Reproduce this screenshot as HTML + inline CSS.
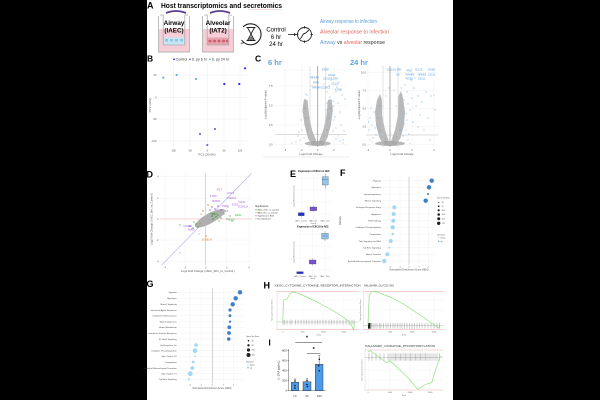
<!DOCTYPE html>
<html><head><meta charset="utf-8"><style>
html,body{margin:0;padding:0;background:#000;}
svg{display:block;}
text{font-family:"Liberation Sans",Arial,sans-serif;}
</style></head><body>
<svg width="600" height="400" viewBox="0 0 600 400" xmlns="http://www.w3.org/2000/svg">
<rect width="600" height="400" fill="#000"/>
<rect x="147" y="0" width="306" height="400" fill="#fff"/>

<!-- ================= PANEL A ================= -->
<text x="147" y="8.5" font-size="9" font-weight="bold">A</text>
<text x="161" y="8" font-size="7" font-weight="bold" textLength="121" lengthAdjust="spacingAndGlyphs">Host transcriptomics and secretomics</text>
<line x1="249" y1="9.6" x2="282" y2="9.6" stroke="#e77" stroke-width="0.5" stroke-dasharray="0.8 0.8"/>

<!-- transwell 1 -->
<rect x="158.5" y="29" width="31" height="23" fill="#f7cdd7"/>
<rect x="163.5" y="37.5" width="21" height="7.5" fill="#c6e6f4"/>
<g fill="#8ec6e2"><rect x="165" y="39" width="3" height="2.5"/><rect x="170" y="39" width="3" height="2.5"/><rect x="175" y="39" width="3" height="2.5"/><rect x="180" y="39" width="3" height="2.5"/></g>
<path d="M158.5 16 V52 H189.5 V16" fill="none" stroke="#b5b5b5" stroke-width="0.9"/>
<path d="M160 15 H163.2 V45 H184.8 V15 H188" fill="none" stroke="#aaa" stroke-width="0.8"/>
<path d="M166 13 Q176 9 186 13" fill="none" stroke="#5b3f92" stroke-width="1.8"/>
<text x="174" y="25" font-size="6.3" font-weight="bold" text-anchor="middle">Airway</text>
<text x="174" y="32.5" font-size="6.3" font-weight="bold" text-anchor="middle">(IAEC)</text>

<!-- transwell 2 -->
<rect x="202.5" y="29" width="31" height="23" fill="#f7cdd7"/>
<rect x="207.5" y="37.5" width="21" height="7.5" fill="#e7a3ad"/>
<g fill="#cf5f6e"><ellipse cx="210" cy="41" rx="1.6" ry="1.4"/><ellipse cx="214.5" cy="41" rx="1.6" ry="1.4"/><ellipse cx="219" cy="41" rx="1.6" ry="1.4"/><ellipse cx="223.5" cy="41" rx="1.6" ry="1.4"/><ellipse cx="227" cy="41" rx="1.2" ry="1.4"/></g>
<path d="M202.5 16 V52 H233.5 V16" fill="none" stroke="#b5b5b5" stroke-width="0.9"/>
<path d="M204 15 H207.2 V45 H228.8 V15 H232" fill="none" stroke="#aaa" stroke-width="0.8"/>
<path d="M210 13 Q220 9 230 13" fill="none" stroke="#5b3f92" stroke-width="1.8"/>
<text x="218" y="25" font-size="6.3" font-weight="bold" text-anchor="middle">Alveolar</text>
<text x="218" y="32.5" font-size="6.3" font-weight="bold" text-anchor="middle">(IAT2)</text>

<!-- hourglass -->
<path d="M243 27 A10.5 10.5 0 1 1 244 42.5" fill="none" stroke="#222" stroke-width="1.1"/>
<path d="M241.5 40 L244 42.5 L240.8 43.5" fill="none" stroke="#222" stroke-width="0.9"/>
<path d="M246.5 27.5 H255.5 M246.5 40.5 H255.5 M247.5 27.5 L251 34 L247.5 40.5 M254.5 27.5 L251 34 L254.5 40.5" fill="none" stroke="#222" stroke-width="0.9"/>
<path d="M249 38.5 L251 36 L253 38.5 L253.5 40 L248.5 40 Z" fill="#777"/>
<text x="276" y="31.5" font-size="6" text-anchor="middle">Control</text>
<text x="276" y="39" font-size="6" text-anchor="middle">6 hr</text>
<text x="276" y="46" font-size="6" text-anchor="middle">24 hr</text>
<line x1="288" y1="34.5" x2="294.5" y2="34.5" stroke="#222" stroke-width="0.8"/>
<path d="M294 33 L296.5 34.5 L294 36 Z" fill="#222"/>
<circle cx="304.5" cy="34.5" r="7" fill="none" stroke="#222" stroke-width="0.9"/>
<path d="M304.5 26 V28.5 M304.5 40.5 V43 M296 34.5 H298.5 M310.5 34.5 H313" stroke="#222" stroke-width="0.8"/>
<path d="M300 38.5 C302 38.5 302 34 304.5 33.5 C307 33 307 30.5 309 30.5" fill="none" stroke="#222" stroke-width="0.9"/>

<text x="320" y="23" font-size="5" fill="#5b9bd5" textLength="57" lengthAdjust="spacingAndGlyphs">Airway response to infection</text>
<text x="320" y="33.5" font-size="5" fill="#e0625a" textLength="69" lengthAdjust="spacingAndGlyphs">Alveolar response to infection</text>
<text x="320" y="44" font-size="5" textLength="65" lengthAdjust="spacingAndGlyphs"><tspan fill="#5b9bd5">Airway</tspan><tspan fill="#333"> vs </tspan><tspan fill="#e0625a">alveolar</tspan><tspan fill="#333"> response</tspan></text>

<!-- ================= PANEL B ================= -->
<text x="147" y="61.5" font-size="8.5" font-weight="bold">B</text>
<g font-size="3.6" fill="#333">
<circle cx="174" cy="59.3" r="0.9" fill="#2929e8"/><text x="175.6" y="60.5">Control</text>
<circle cx="190" cy="59.3" r="0.9" fill="#8a64e0"/><text x="191.6" y="60.5">S. py 6 hr</text>
<circle cx="210" cy="59.3" r="0.9" fill="#6aaaf0"/><text x="211.6" y="60.5">S. py 24 hr</text>
</g>
<g stroke="#e6e6e6" stroke-width="0.4">
<line x1="158" y1="75" x2="248" y2="75"/><line x1="158" y1="97.3" x2="248" y2="97.3"/><line x1="158" y1="119" x2="248" y2="119"/><line x1="158" y1="141" x2="248" y2="141"/>
<line x1="173.3" y1="63" x2="173.3" y2="148"/><line x1="190" y1="63" x2="190" y2="148"/><line x1="207.3" y1="63" x2="207.3" y2="148"/><line x1="224" y1="63" x2="224" y2="148"/><line x1="240" y1="63" x2="240" y2="148"/>
</g>
<g font-size="2.6" fill="#555" text-anchor="end">
<text x="156.5" y="76">50</text><text x="156.5" y="98.3">0</text><text x="156.5" y="120">-50</text><text x="156.5" y="142">-100</text>
</g>
<g font-size="2.6" fill="#555" text-anchor="middle">
<text x="173.3" y="151.5">-100</text><text x="190" y="151.5">-50</text><text x="207.3" y="151.5">0</text><text x="224" y="151.5">50</text><text x="240" y="151.5">100</text>
<text x="207" y="155.5" font-size="3">PC1 (30.6%)</text>
<text x="151" y="105" font-size="3" transform="rotate(-90 151 105)">PC2 (22%)</text>
</g>
<g>
<circle cx="163.3" cy="77.7" r="1.1" fill="#6aaaf0"/><circle cx="176.7" cy="75" r="1.1" fill="#6aaaf0"/><circle cx="196" cy="79" r="1.1" fill="#6aaaf0"/>
<circle cx="224.3" cy="84" r="1.1" fill="#2929e8"/><circle cx="239.3" cy="84" r="1.1" fill="#2929e8"/><circle cx="245" cy="68.3" r="1.1" fill="#2929e8"/>
<circle cx="200" cy="134" r="1.1" fill="#8a64e0"/><circle cx="215" cy="129" r="1.1" fill="#8a64e0"/><circle cx="207.3" cy="145" r="1.1" fill="#8a64e0"/>
</g>

<!-- ================= PANEL C ================= -->
<text x="255" y="61.5" font-size="8.5" font-weight="bold">C</text>
<text x="268" y="65" font-size="7.5" font-weight="bold" fill="#5aa2ea">6 hr</text>
<text x="350" y="65" font-size="7.5" font-weight="bold" fill="#5aa2ea">24 hr</text>

<!-- left volcano -->
<g stroke="#ececec" stroke-width="0.4">
<line x1="275" y1="144.5" x2="347" y2="144.5"/><line x1="275" y1="125" x2="347" y2="125"/><line x1="275" y1="105.5" x2="347" y2="105.5"/><line x1="275" y1="86" x2="347" y2="86"/><line x1="275" y1="70" x2="347" y2="70"/>
<line x1="285" y1="66" x2="285" y2="147"/><line x1="301.5" y1="66" x2="301.5" y2="147"/><line x1="334" y1="66" x2="334" y2="147"/>
</g>
<g font-size="2.5" fill="#555">
<g text-anchor="end"><text x="272.5" y="145.5">0.0</text><text x="272.5" y="126">2.5</text><text x="272.5" y="106.5">5.0</text><text x="272.5" y="87">7.5</text></g>
<g text-anchor="middle"><text x="285" y="151">-4</text><text x="301.5" y="151">-2</text><text x="317.7" y="151">0</text><text x="334" y="151">2</text>
<text x="311" y="155" font-size="2.8">Log2 Fold Change</text>
<text x="266.5" y="105" font-size="2.6" transform="rotate(-90 266.5 105)">-Log10(Adjusted P-value)</text></g>
</g>
<line x1="263" y1="157" x2="350" y2="157" stroke="#ddd" stroke-width="0.5"/>
<g fill="#a8a8a8" fill-opacity="0.8">
<path d="M317 145.5 L312 145.5 L308 138 L304.5 125 L302.5 110 L304 99 L307.5 100 L309 115 L312 130 L316 140 Z"/>
<path d="M318.4 145.5 L323.4 145.5 L327.4 138 L330.9 125 L332.9 110 L331.4 99 L327.9 100 L326.4 115 L323.4 130 L319.4 140 Z"/>
<ellipse cx="317.7" cy="143.5" rx="13" ry="2.5"/>
</g>
<g fill="#8a8a8a">
<circle cx="308" cy="130" r="0.5"/><circle cx="306" cy="118" r="0.5"/><circle cx="310" cy="136" r="0.5"/><circle cx="305" cy="108" r="0.5"/><circle cx="327" cy="130" r="0.5"/><circle cx="329" cy="118" r="0.5"/><circle cx="325" cy="136" r="0.5"/><circle cx="331" cy="108" r="0.5"/><circle cx="314" cy="142" r="0.5"/><circle cx="321" cy="142" r="0.5"/>
</g>
<g fill="#a3a3a3">
<circle cx="300" cy="140" r="0.55"/><circle cx="298" cy="136" r="0.55"/><circle cx="304" cy="108" r="0.55"/><circle cx="333" cy="106" r="0.55"/><circle cx="306" cy="94" r="0.55"/><circle cx="310" cy="90" r="0.55"/><circle cx="327" cy="92" r="0.55"/><circle cx="336" cy="128" r="0.55"/><circle cx="338" cy="136" r="0.55"/><circle cx="296" cy="142" r="0.55"/><circle cx="340" cy="141" r="0.55"/><circle cx="312" cy="86" r="0.55"/><circle cx="324" cy="84" r="0.55"/><circle cx="302" cy="130" r="0.55"/><circle cx="334" cy="120" r="0.55"/><circle cx="292" cy="143" r="0.55"/><circle cx="343" cy="143" r="0.55"/>
</g>
<line x1="275" y1="134.3" x2="347" y2="134.3" stroke="#bbb" stroke-width="0.5"/>
<line x1="310" y1="66" x2="310" y2="147" stroke="#c8c8c8" stroke-width="0.5"/>
<line x1="325.5" y1="66" x2="325.5" y2="147" stroke="#c8c8c8" stroke-width="0.5"/>
<line x1="317.7" y1="66" x2="317.7" y2="147" stroke="#999" stroke-width="0.8"/>
<g fill="#86bfec">
<circle cx="330" cy="97" r="0.6"/><circle cx="333" cy="101" r="0.6"/><circle cx="336" cy="92" r="0.6"/><circle cx="338" cy="103" r="0.6"/><circle cx="332" cy="108" r="0.6"/><circle cx="340" cy="112" r="0.6"/><circle cx="335" cy="117" r="0.6"/><circle cx="342" cy="95" r="0.6"/><circle cx="337" cy="87" r="0.6"/><circle cx="345" cy="99" r="0.6"/><circle cx="341" cy="125" r="0.6"/><circle cx="333" cy="131" r="0.6"/><circle cx="344" cy="131" r="0.6"/><circle cx="329" cy="86" r="0.6"/><circle cx="331" cy="80" r="0.6"/><circle cx="339" cy="82" r="0.6"/><circle cx="326" cy="110" r="0.6"/><circle cx="328" cy="120" r="0.6"/><circle cx="336" cy="139" r="0.6"/><circle cx="343" cy="140" r="0.6"/><circle cx="327" cy="103" r="0.6"/><circle cx="329" cy="127" r="0.6"/>
<circle cx="303" cy="112" r="0.6"/><circle cx="301" cy="120" r="0.6"/><circle cx="305" cy="104" r="0.6"/><circle cx="299" cy="132" r="0.6"/><circle cx="307" cy="95" r="0.6"/><circle cx="304" cy="138" r="0.6"/>
</g>
<g font-size="2.3" fill="#4a8fd8">
<text x="322" y="70.5">IFI30P</text><text x="328" y="76">CXCL1</text><text x="323" y="79.5">CXCL8 IL1RN</text><text x="309.5" y="78.5">TNFAIP3</text><text x="313" y="83.5">TNFA</text><text x="331.5" y="84.5">CCL20</text><text x="312.5" y="88.5">NFKBIA ZC3H12</text><text x="335" y="90.5">ICAM1</text>
</g>

<!-- right volcano -->
<g stroke="#ececec" stroke-width="0.4">
<line x1="366" y1="144.5" x2="438" y2="144.5"/><line x1="366" y1="126.5" x2="438" y2="126.5"/><line x1="366" y1="108.5" x2="438" y2="108.5"/><line x1="366" y1="90.5" x2="438" y2="90.5"/><line x1="366" y1="72.5" x2="438" y2="72.5"/>
<line x1="368" y1="66" x2="368" y2="147"/><line x1="412" y1="66" x2="412" y2="147"/><line x1="434" y1="66" x2="434" y2="147"/>
</g>
<g font-size="2.5" fill="#555">
<g text-anchor="end"><text x="366" y="145.5">0.0</text><text x="366" y="127.5">2.5</text><text x="366" y="109.5">5.0</text><text x="366" y="91.5">7.5</text><text x="366" y="73.5">10.0</text></g>
<g text-anchor="middle"><text x="368" y="151">-2</text><text x="390" y="151">0</text><text x="412" y="151">2</text><text x="434" y="151">4</text>
<text x="402" y="155" font-size="2.8">Log2 Fold Change</text>
<text x="360" y="105" font-size="2.6" transform="rotate(-90 360 105)">-Log10(Adjusted P-value)</text></g>
</g>
<g fill="#a8a8a8" fill-opacity="0.8">
<path d="M389.3 145.5 L384 145.5 L379.5 138 L376 125 L375 112 L377 100 L380 94 L382 100 L382 115 L385 130 L388.5 140 Z"/>
<path d="M390.7 145.5 L396 145.5 L400.5 138 L404 125 L405 112 L403 98 L401 91 L398.5 96 L398 115 L395 130 L391.5 140 Z"/>
<ellipse cx="390" cy="143.5" rx="15" ry="2.5"/>
</g>
<g fill="#8a8a8a">
<circle cx="380" cy="130" r="0.5"/><circle cx="378" cy="118" r="0.5"/><circle cx="383" cy="137" r="0.5"/><circle cx="379" cy="106" r="0.5"/><circle cx="400" cy="130" r="0.5"/><circle cx="402" cy="118" r="0.5"/><circle cx="397" cy="137" r="0.5"/><circle cx="401" cy="106" r="0.5"/><circle cx="386" cy="142" r="0.5"/><circle cx="394" cy="142" r="0.5"/>
</g>
<g fill="#a3a3a3">
<circle cx="378" cy="128" r="0.55"/><circle cx="383" cy="106" r="0.55"/><circle cx="396" cy="106" r="0.55"/><circle cx="386" cy="96" r="0.55"/><circle cx="394" cy="90" r="0.55"/><circle cx="406" cy="130" r="0.55"/><circle cx="408" cy="140" r="0.55"/><circle cx="372" cy="142" r="0.55"/><circle cx="370" cy="140" r="0.55"/><circle cx="410" cy="143" r="0.55"/><circle cx="389" cy="88" r="0.55"/><circle cx="407" cy="120" r="0.55"/>
</g>
<line x1="366" y1="135" x2="438" y2="135" stroke="#bbb" stroke-width="0.5"/>
<line x1="383" y1="66" x2="383" y2="147" stroke="#c8c8c8" stroke-width="0.5"/>
<line x1="398" y1="66" x2="398" y2="147" stroke="#c8c8c8" stroke-width="0.5"/>
<line x1="390" y1="66" x2="390" y2="147" stroke="#999" stroke-width="0.8"/>
<g fill="#86bfec">
<circle cx="370" cy="118" r="0.6"/><circle cx="372" cy="125" r="0.6"/><circle cx="369" cy="130" r="0.6"/><circle cx="374" cy="112" r="0.6"/><circle cx="371" cy="108" r="0.6"/><circle cx="376" cy="135" r="0.6"/><circle cx="373" cy="138" r="0.6"/><circle cx="368.5" cy="122" r="0.6"/><circle cx="378" cy="104" r="0.6"/><circle cx="375" cy="128" r="0.6"/>
<circle cx="401" cy="88" r="0.6"/><circle cx="402" cy="95" r="0.6"/><circle cx="404" cy="100" r="0.6"/><circle cx="401" cy="106" r="0.6"/><circle cx="403" cy="112" r="0.6"/><circle cx="402" cy="118" r="0.6"/><circle cx="404" cy="124" r="0.6"/><circle cx="401" cy="130" r="0.6"/><circle cx="405" cy="85" r="0.6"/><circle cx="407" cy="92" r="0.6"/><circle cx="408" cy="104" r="0.6"/><circle cx="410" cy="110" r="0.6"/><circle cx="412" cy="98" r="0.6"/><circle cx="414" cy="88" r="0.6"/><circle cx="416" cy="106" r="0.6"/><circle cx="418" cy="96" r="0.6"/><circle cx="420" cy="115" r="0.6"/><circle cx="422" cy="102" r="0.6"/><circle cx="426" cy="92" r="0.6"/><circle cx="428" cy="118" r="0.6"/><circle cx="431" cy="96" r="0.6"/><circle cx="434" cy="95" r="0.6"/><circle cx="424" cy="130" r="0.6"/><circle cx="418" cy="127" r="0.6"/><circle cx="413" cy="122" r="0.6"/><circle cx="409" cy="134" r="0.6"/><circle cx="430" cy="140" r="0.6"/><circle cx="435" cy="110" r="0.6"/><circle cx="411" cy="80" r="0.6"/><circle cx="406" cy="78" r="0.6"/><circle cx="415" cy="78" r="0.6"/><circle cx="403" cy="136" r="0.6"/><circle cx="406" cy="114" r="0.6"/><circle cx="400" cy="120" r="0.6"/>
</g>
<g font-size="2.3" fill="#4a8fd8">
<text x="386.5" y="70.5">CXCL8 IL1RN</text><text x="406.5" y="71.5">IFI30</text><text x="415" y="70.5">CCL20</text><text x="428" y="70.5">ICAM1</text>
<text x="396.5" y="75.5">IL6</text><text x="405" y="75.5">TNFAIP3</text><text x="418" y="75.5">NFKBIZ</text><text x="428" y="75.5">CXCL1</text>
<text x="406.5" y="79.5">SOD2</text><text x="418" y="79.5">CXCL2</text>
</g>

<!-- ================= PANEL D ================= -->
<text x="146.5" y="177.5" font-size="9" font-weight="bold">D</text>
<g stroke="#ececec" stroke-width="0.4">
<line x1="160" y1="176.7" x2="252" y2="176.7"/><line x1="160" y1="198.3" x2="252" y2="198.3"/><line x1="160" y1="240" x2="252" y2="240"/><line x1="160" y1="261.7" x2="252" y2="261.7"/>
<line x1="165" y1="173" x2="165" y2="265"/><line x1="185" y1="173" x2="185" y2="265"/><line x1="226.7" y1="173" x2="226.7" y2="265"/><line x1="249" y1="173" x2="249" y2="265"/>
</g>
<line x1="160" y1="219" x2="252" y2="219" stroke="#f3a5a5" stroke-width="0.6"/>
<line x1="205.7" y1="173" x2="205.7" y2="265" stroke="#f3a5a5" stroke-width="0.6"/>
<line x1="161.7" y1="265" x2="251.7" y2="173.3" stroke="#bbb8f5" stroke-width="0.7"/>
<g font-size="2.3" fill="#555">
<g text-anchor="end"><text x="158.5" y="177.5">4</text><text x="158.5" y="199">2</text><text x="158.5" y="220">0</text><text x="158.5" y="241">-2</text><text x="158.5" y="262.5">-4</text></g>
<g text-anchor="middle"><text x="165" y="268.5">-4</text><text x="185" y="268.5">-2</text><text x="205.7" y="268.5">0</text><text x="226.7" y="268.5">2</text><text x="249" y="268.5">4</text>
<text x="208" y="272" font-size="2.7">Log2 Fold Change ( IAEC_24hr_vs_Control )</text>
<text x="152.5" y="219" font-size="2.7" transform="rotate(-90 152.5 219)">Log2 Fold Change ( IAEC_6hr_vs_Control )</text></g>
</g>
<ellipse cx="210" cy="218.3" rx="17" ry="5" fill="#b0b0b0" transform="rotate(-29 210 218.3)"/>
<g fill="#a5a5a5"><circle cx="192" cy="229" r="0.6"/><circle cx="228" cy="207" r="0.6"/><circle cx="189" cy="226" r="0.6"/><circle cx="180" cy="253" r="0.6"/><circle cx="199" cy="234" r="0.6"/></g>
<g fill="#2ca02c">
<circle cx="212" cy="216" r="0.8"/><circle cx="214" cy="214" r="0.8"/><circle cx="216" cy="217" r="0.8"/><circle cx="213" cy="219" r="0.8"/><circle cx="218" cy="215" r="0.6"/><circle cx="221" cy="218" r="0.6"/><circle cx="224" cy="214" r="0.6"/><circle cx="227" cy="219" r="0.6"/><circle cx="230" cy="216" r="0.6"/><circle cx="232" cy="221" r="0.6"/><circle cx="219" cy="221" r="0.6"/><circle cx="211" cy="213" r="0.6"/>
<circle cx="196" cy="224" r="0.7"/><circle cx="198" cy="227" r="0.7"/><circle cx="194" cy="222" r="0.6"/><circle cx="180" cy="225" r="0.6"/><circle cx="193" cy="228" r="0.6"/>
</g>
<g fill="#e07a2a"><circle cx="208" cy="205" r="0.7"/><circle cx="203" cy="211" r="0.7"/><circle cx="200" cy="224" r="0.7"/><circle cx="206" cy="236" r="0.7"/><circle cx="201" cy="214" r="0.6"/></g>
<g fill="#9b55d6"><circle cx="212" cy="207" r="0.7"/><circle cx="215" cy="209" r="0.7"/><circle cx="218" cy="206" r="0.7"/><circle cx="210" cy="210" r="0.7"/><circle cx="221" cy="210" r="0.7"/><circle cx="190" cy="226" r="0.7"/></g>
<g font-size="2.3" fill="#a855e0">
<text x="216.7" y="190.5">IFI27</text><text x="226.7" y="193.8">CXCL8</text><text x="210" y="197">IL1RN</text><text x="226.7" y="199">TNFAIP3</text><text x="211.7" y="202">NFKBIA</text><text x="238.3" y="202.8">CCL20</text><text x="231.7" y="205.5">SOD2</text><text x="238" y="207.5">ZC3H12A</text><text x="221.7" y="207.2">ICAM1</text><text x="225" y="212">IL6</text><text x="183.3" y="227.2">CXCL14</text><text x="188" y="230.5">MUC5</text>
</g>
<g font-size="2.3" fill="#2ca02c"><text x="211.7" y="214.8">IFIT1</text><text x="235" y="216.2">OASL</text><text x="228" y="220.5">ISG15</text></g>
<text x="201.7" y="240.5" font-size="2.3" fill="#e07a2a">SCGB1A1</text>
<g font-size="2.5" fill="#333">
<text x="255" y="207">Significance</text>
<g font-size="2.1">
<circle cx="256" cy="209.8" r="0.6" fill="#2ca02c"/><text x="257.5" y="210.5">IAEC_24hr_vs_Control</text>
<circle cx="256" cy="212.8" r="0.6" fill="#e07a2a"/><text x="257.5" y="213.5">IAEC_6hr_vs_Control</text>
<circle cx="256" cy="215.8" r="0.6" fill="#9b55d6"/><text x="257.5" y="216.5">Significant in Both</text>
<circle cx="256" cy="218.8" r="0.6" fill="#aaa"/><text x="257.5" y="219.5">Not Significant</text>
</g></g>

<!-- ================= PANEL E ================= -->
<text x="290" y="177" font-size="9" font-weight="bold">E</text>
<g stroke="#ececec" stroke-width="0.35">
<line x1="298" y1="178" x2="332" y2="178"/><line x1="298" y1="190" x2="332" y2="190"/><line x1="298" y1="202" x2="332" y2="202"/><line x1="298" y1="214" x2="332" y2="214"/>
<line x1="298" y1="234" x2="332" y2="234"/><line x1="298" y1="246" x2="332" y2="246"/><line x1="298" y1="258" x2="332" y2="258"/><line x1="298" y1="270" x2="332" y2="270"/>
<line x1="301.3" y1="173" x2="301.3" y2="220"/><line x1="313.3" y1="173" x2="313.3" y2="220"/><line x1="325.3" y1="173" x2="325.3" y2="220"/>
<line x1="300" y1="229" x2="300" y2="275"/><line x1="312.7" y1="229" x2="312.7" y2="275"/><line x1="325" y1="229" x2="325" y2="275"/>
</g>
<text x="314" y="171.8" font-size="2.3" font-weight="bold" text-anchor="middle">Expression of CXCL1 in AEC</text>
<text x="313" y="227.3" font-size="2.3" font-weight="bold" text-anchor="middle">Expression of CXCL8 in AEC</text>
<g font-size="1.9" fill="#666" text-anchor="middle">
<text x="294.5" y="196" transform="rotate(-90 294.5 196)">Log2 Normalized Counts</text>
<text x="294.5" y="252" transform="rotate(-90 294.5 252)">Log2 Normalized Counts</text>
<text x="301.3" y="221.5">IAEC_Control</text><text x="313.3" y="221.5">IAEC_6hr</text><text x="325.3" y="221.5">IAEC_24hr</text><text x="313.3" y="224">Group</text>
<text x="300" y="276.8">IAEC_Control</text><text x="312.7" y="276.8">IAEC_6hr</text><text x="325" y="276.8">IAEC_24hr</text><text x="312.7" y="279.2">Group</text>
</g>
<g stroke="#444" stroke-width="0.3">
<line x1="301.3" y1="211.5" x2="301.3" y2="217"/><rect x="298.3" y="212.7" width="6" height="3" fill="#1f2fd9"/>
<line x1="313.3" y1="205.5" x2="313.3" y2="212"/><rect x="310" y="207" width="6.7" height="3.7" fill="#7a52d6"/>
<line x1="325.3" y1="173.5" x2="325.3" y2="188.5"/><rect x="322.3" y="176.7" width="6" height="8.3" fill="#8fc6f0"/><line x1="322.3" y1="179.5" x2="328.3" y2="179.5"/>
<line x1="325" y1="231.5" x2="325" y2="241"/><rect x="321.7" y="233.3" width="6.6" height="5.7" fill="#8fc6f0"/><line x1="321.7" y1="236" x2="328.3" y2="236"/>
<line x1="312.7" y1="258.5" x2="312.7" y2="265.5"/><rect x="309.3" y="260" width="6.7" height="4" fill="#7a52d6"/>
<line x1="300" y1="271" x2="300" y2="274.5"/><rect x="296.7" y="271.7" width="6.6" height="2" fill="#1f2fd9"/>
</g>

<!-- ================= PANEL F ================= -->
<text x="340" y="176" font-size="9" font-weight="bold">F</text>
<g stroke="#ececec" stroke-width="0.35">
<line x1="382.3" y1="180.7" x2="435" y2="180.7"/><line x1="382.3" y1="187.3" x2="435" y2="187.3"/><line x1="382.3" y1="194" x2="435" y2="194"/><line x1="382.3" y1="200.7" x2="435" y2="200.7"/><line x1="382.3" y1="207.3" x2="435" y2="207.3"/><line x1="382.3" y1="214" x2="435" y2="214"/><line x1="382.3" y1="220.7" x2="435" y2="220.7"/><line x1="382.3" y1="227.3" x2="435" y2="227.3"/><line x1="382.3" y1="234" x2="435" y2="234"/><line x1="382.3" y1="241" x2="435" y2="241"/><line x1="382.3" y1="247.7" x2="435" y2="247.7"/><line x1="382.3" y1="254.3" x2="435" y2="254.3"/><line x1="382.3" y1="261" x2="435" y2="261"/>
<line x1="390" y1="176.7" x2="390" y2="265"/><line x1="400" y1="176.7" x2="400" y2="265"/><line x1="419" y1="176.7" x2="419" y2="265"/><line x1="428.3" y1="176.7" x2="428.3" y2="265"/>
</g>
<line x1="409" y1="176.7" x2="409" y2="265" stroke="#aaa" stroke-width="0.5"/>
<g font-size="2.2" fill="#444" text-anchor="end">
<text x="381" y="181.5">Hypoxia</text><text x="381" y="188.1">Glycolysis</text><text x="381" y="194.8">Spermatogenesis</text><text x="381" y="201.5">Mtorc1 Signaling</text><text x="381" y="208.1">Estrogen Response Early</text><text x="381" y="214.8">Apoptosis</text><text x="381" y="221.5">P53 Pathway</text><text x="381" y="228.1">Oxidative Phosphorylation</text><text x="381" y="234.8">Coagulation</text><text x="381" y="241.8">Tnfa Signaling via Nfkb</text><text x="381" y="248.5">Tgf Beta Signaling</text><text x="381" y="255.1">Apical Junction</text><text x="381" y="261.8">Epithelial Mesenchymal Transition</text>
</g>
<g font-size="2.2" fill="#555" text-anchor="middle">
<text x="390" y="267.7">-2</text><text x="400" y="267.7">-1</text><text x="409" y="267.7">0</text><text x="419" y="267.7">1</text><text x="428.3" y="267.7">2</text>
<text x="409" y="270.5" font-size="2.4">Normalized Enrichment Score (NES)</text>
<text x="341" y="220.7" font-size="2.4" transform="rotate(-90 341 220.7)">Pathway</text>
</g>
<g fill="#3f7fc4">
<circle cx="431.7" cy="180.7" r="2.2"/><circle cx="429" cy="187.3" r="2.2"/><circle cx="428" cy="194" r="1"/><circle cx="425.7" cy="200.7" r="2.2"/>
</g>
<g fill="#a3d6f4">
<circle cx="394.3" cy="207.3" r="2"/><circle cx="393.7" cy="214" r="2"/><circle cx="393.3" cy="220.7" r="2"/><circle cx="392.7" cy="227.3" r="2.2"/><circle cx="392.7" cy="234" r="1.3"/><circle cx="390.7" cy="241" r="2"/><circle cx="389.3" cy="247.7" r="0.9"/><circle cx="387.3" cy="254.3" r="2"/><circle cx="384.3" cy="261" r="2.2"/>
</g>
<g font-size="2" fill="#444">
<text x="437" y="198.5">Gene Set Size</text>
<circle cx="438.7" cy="202.3" r="0.6" fill="#222"/><text x="441.5" y="203">50</text>
<circle cx="438.7" cy="206.3" r="0.9" fill="#222"/><text x="441.5" y="207">75</text>
<circle cx="438.7" cy="210.3" r="1.1" fill="#222"/><text x="441.5" y="211">100</text>
<circle cx="438.7" cy="214.5" r="1.3" fill="#222"/><text x="441.5" y="215.2">125</text>
<circle cx="438.7" cy="218.8" r="1.5" fill="#222"/><text x="441.5" y="219.5">150</text>
<circle cx="438.7" cy="223.3" r="1.7" fill="#222"/><text x="441.5" y="224">175</text>
<text x="437" y="235.3">Direction</text>
<circle cx="438.7" cy="238" r="0.6" fill="#a3d6f4"/><text x="440.5" y="238.7">down</text>
<circle cx="438.7" cy="241.3" r="0.6" fill="#3f7fc4"/><text x="440.5" y="242">up</text>
</g>

<!-- ================= PANEL G ================= -->
<text x="146.5" y="287" font-size="9" font-weight="bold">G</text>
<g stroke="#ececec" stroke-width="0.35">
<line x1="178.3" y1="292.3" x2="244.3" y2="292.3"/><line x1="178.3" y1="298.3" x2="244.3" y2="298.3"/><line x1="178.3" y1="304.3" x2="244.3" y2="304.3"/><line x1="178.3" y1="310" x2="244.3" y2="310"/><line x1="178.3" y1="315.7" x2="244.3" y2="315.7"/><line x1="178.3" y1="321.7" x2="244.3" y2="321.7"/><line x1="178.3" y1="327.3" x2="244.3" y2="327.3"/><line x1="178.3" y1="333" x2="244.3" y2="333"/><line x1="178.3" y1="339" x2="244.3" y2="339"/><line x1="178.3" y1="345" x2="244.3" y2="345"/><line x1="178.3" y1="350.7" x2="244.3" y2="350.7"/><line x1="178.3" y1="356.3" x2="244.3" y2="356.3"/><line x1="178.3" y1="362" x2="244.3" y2="362"/><line x1="178.3" y1="368" x2="244.3" y2="368"/><line x1="178.3" y1="373.7" x2="244.3" y2="373.7"/><line x1="178.3" y1="379.3" x2="244.3" y2="379.3"/>
<line x1="190" y1="288.3" x2="190" y2="383.3"/><line x1="201" y1="288.3" x2="201" y2="383.3"/><line x1="223.3" y1="288.3" x2="223.3" y2="383.3"/><line x1="233.3" y1="288.3" x2="233.3" y2="383.3"/>
</g>
<line x1="212.3" y1="288.3" x2="212.3" y2="383.3" stroke="#aaa" stroke-width="0.5"/>
<g font-size="2.2" fill="#444" text-anchor="end">
<text x="176.7" y="293.1">Hypoxia</text><text x="176.7" y="299.1">Glycolysis</text><text x="176.7" y="305.1">Mtorc1 Signaling</text><text x="176.7" y="310.8">Interferon Alpha Response</text><text x="176.7" y="316.5">Cholesterol Homeostasis</text><text x="176.7" y="322.5">Spermatogenesis</text><text x="176.7" y="328.1">Heme Metabolism</text><text x="176.7" y="333.8">Interferon Gamma Response</text><text x="176.7" y="339.8">Il2 Stat5 Signaling</text><text x="176.7" y="345.8">Uv Response Dn</text><text x="176.7" y="351.5">Oxidative Phosphorylation</text><text x="176.7" y="357.1">Myc Targets V2</text><text x="176.7" y="362.8">Coagulation</text><text x="176.7" y="368.8">Epithelial Mesenchymal Transition</text><text x="176.7" y="374.5">Myc Targets V1</text><text x="176.7" y="380.1">Tgf Beta Signaling</text>
</g>
<g font-size="2.2" fill="#555" text-anchor="middle">
<text x="190" y="385.5">-2</text><text x="201" y="385.5">-1</text><text x="212.3" y="385.5">0</text><text x="223.3" y="385.5">1</text><text x="233.3" y="385.5">2</text>
<text x="212" y="388.8" font-size="2.4">Normalized Enrichment Score (NES)</text>
</g>
<g fill="#3f7fc4">
<circle cx="240" cy="292.3" r="2.2"/><circle cx="235.7" cy="298.3" r="2.2"/><circle cx="232.7" cy="304.3" r="2.2"/><circle cx="230" cy="310" r="1.6"/><circle cx="230" cy="315.7" r="1.4"/><circle cx="230" cy="321.7" r="1.2"/><circle cx="229.3" cy="327.3" r="1.9"/><circle cx="229" cy="333" r="1.9"/><circle cx="228.7" cy="339" r="1.8"/>
</g>
<g fill="#a3d6f4">
<circle cx="196" cy="345" r="1.8"/><circle cx="195" cy="350.7" r="2.3"/><circle cx="195" cy="356.3" r="0.8"/><circle cx="193.3" cy="362" r="1.4"/><circle cx="192.3" cy="368" r="1.9"/><circle cx="190.3" cy="373.7" r="2.4"/><circle cx="189" cy="379.3" r="1.1"/>
</g>
<g font-size="2" fill="#444">
<text x="246" y="337">Gene Set Size</text>
<circle cx="248.5" cy="340.7" r="0.8" fill="#222"/><text x="251.5" y="341.4">40</text>
<circle cx="248.5" cy="345.3" r="1.2" fill="#222"/><text x="251.5" y="346">80</text>
<circle cx="248.5" cy="350" r="1.6" fill="#222"/><text x="251.5" y="350.7">120</text>
<circle cx="248.5" cy="355" r="2" fill="#222"/><text x="251.5" y="355.7">160</text>
<text x="246" y="362.5">Direction</text>
<circle cx="248" cy="365" r="0.6" fill="#a3d6f4"/><text x="249.8" y="365.7">down</text>
<circle cx="248" cy="367.8" r="0.6" fill="#3f7fc4"/><text x="249.8" y="368.5">up</text>
</g>

<!-- ================= PANEL H ================= -->
<text x="263.5" y="288.5" font-size="9" font-weight="bold">H</text>
<text x="274.7" y="286.3" font-size="3.1" fill="#333" textLength="86" lengthAdjust="spacingAndGlyphs">KEGG_CYTOKINE_CYTOKINE_RECEPTOR_INTERACTION</text>
<text x="364" y="286.3" font-size="3.1" fill="#333" textLength="30" lengthAdjust="spacingAndGlyphs">HALLMARK_GLYCOLYSIS</text>
<text x="365" y="347" font-size="3.1" fill="#333" textLength="70" lengthAdjust="spacingAndGlyphs">HALLMARK_OXIDATIVE_PHOSPHORYLATION</text>

<!-- H left -->
<g stroke="#f0f0f0" stroke-width="0.35"><line x1="282.7" y1="290" x2="282.7" y2="330"/><line x1="302.7" y1="290" x2="302.7" y2="330"/><line x1="323.7" y1="290" x2="323.7" y2="330"/><line x1="343.7" y1="290" x2="343.7" y2="330"/><line x1="277" y1="300" x2="358.7" y2="300"/><line x1="277" y1="310" x2="358.7" y2="310"/></g>
<line x1="277" y1="290" x2="277" y2="330.5" stroke="#ccc" stroke-width="0.4"/>
<line x1="277" y1="291.3" x2="358.7" y2="291.3" stroke="#f5b0b0" stroke-width="0.6"/>
<line x1="277" y1="329.7" x2="358.7" y2="329.7" stroke="#f5b0b0" stroke-width="0.6"/>
<line x1="277" y1="322" x2="358.7" y2="322" stroke="#aaa" stroke-width="0.4"/>
<g stroke="#333" stroke-width="0.25">
<path d="M283 319.7V324.7M284.5 319.7V324.7M287 319.7V324.7M290 319.7V324.7M292 319.7V324.7M295.5 319.7V324.7M298 319.7V324.7M301 319.7V324.7M304 319.7V324.7M306.5 319.7V324.7M309 319.7V324.7M312 319.7V324.7M315 319.7V324.7M317.5 319.7V324.7M320 319.7V324.7M323 319.7V324.7M326 319.7V324.7M329 319.7V324.7M331.5 319.7V324.7M334 319.7V324.7M337 319.7V324.7M340 319.7V324.7M343 319.7V324.7M346 319.7V324.7M349 319.7V324.7M352 319.7V324.7M354 319.7V324.7"/>
</g>
<path d="M282.7 321.3 L283.7 299.7 L287 299 L290.3 293 L293.7 292 L300 294 L310 298.5 L320 303.5 L330 309 L340 315 L348.7 321.3 L352 326.3 L353.7 329.7 L354.5 322" fill="none" stroke="#8fe27f" stroke-width="0.7"/>
<g font-size="1.8" fill="#666" text-anchor="middle">
<text x="282.7" y="332.5">0</text><text x="302.7" y="332.5">5000</text><text x="323.7" y="332.5">10000</text><text x="343.7" y="332.5">15000</text>
<text x="318.7" y="335.5">Rank</text>
<text x="272.5" y="310" transform="rotate(-90 272.5 310)">Running Enrichment Score</text>
</g>

<!-- H right -->
<g stroke="#f0f0f0" stroke-width="0.35"><line x1="368" y1="290" x2="368" y2="330"/><line x1="390" y1="290" x2="390" y2="330"/><line x1="412" y1="290" x2="412" y2="330"/><line x1="434" y1="290" x2="434" y2="330"/><line x1="363.7" y1="300" x2="443.7" y2="300"/><line x1="363.7" y1="310" x2="443.7" y2="310"/></g>
<line x1="363.7" y1="290" x2="363.7" y2="330.5" stroke="#ccc" stroke-width="0.4"/>
<line x1="363.7" y1="291.3" x2="443.7" y2="291.3" stroke="#f5b0b0" stroke-width="0.6"/>
<line x1="363.7" y1="329.7" x2="443.7" y2="329.7" stroke="#f5b0b0" stroke-width="0.6"/>
<line x1="363.7" y1="325.5" x2="443.7" y2="325.5" stroke="#aaa" stroke-width="0.4"/>
<rect x="368" y="323" width="2.5" height="5.7" fill="#222"/>
<g stroke="#333" stroke-width="0.25">
<path d="M371.5 323V328.7M373 323V328.7M375 323V328.7M377 323V328.7M379.5 323V328.7M381 323V328.7M383.5 323V328.7M386 323V328.7M388 323V328.7M390.5 323V328.7M393 323V328.7M395 323V328.7M397.5 323V328.7M400 323V328.7M402 323V328.7M404.5 323V328.7M407 323V328.7M409.5 323V328.7M412 323V328.7M414.5 323V328.7M417 323V328.7M419.5 323V328.7M422 323V328.7M425 323V328.7M428 323V328.7M431 323V328.7M434 323V328.7M437 323V328.7M439.5 323V328.7"/>
</g>
<path d="M368 324.7 L369.3 294.7 L372 291.3 L377 292 L390 297 L405 305 L420 315 L432 323.5 L438.7 328 L440 326" fill="none" stroke="#8fe27f" stroke-width="0.7"/>
<g font-size="1.8" fill="#666" text-anchor="middle">
<text x="368" y="332.5">0</text><text x="390" y="332.5">5000</text><text x="412" y="332.5">10000</text><text x="434" y="332.5">15000</text>
<text x="404" y="335.5">Rank</text>
<text x="361" y="310" transform="rotate(-90 361 310)">Running Enrichment Score</text>
</g>

<!-- H oxphos -->
<g stroke="#f0f0f0" stroke-width="0.35"><line x1="368.3" y1="349" x2="368.3" y2="391"/><line x1="390" y1="349" x2="390" y2="391"/><line x1="410" y1="349" x2="410" y2="391"/><line x1="430" y1="349" x2="430" y2="391"/><line x1="365" y1="370" x2="443.3" y2="370"/><line x1="365" y1="380" x2="443.3" y2="380"/></g>
<line x1="365" y1="349" x2="365" y2="391" stroke="#ccc" stroke-width="0.4"/>
<line x1="365" y1="350" x2="443.3" y2="350" stroke="#f5b0b0" stroke-width="0.6"/>
<line x1="365" y1="390" x2="443.3" y2="390" stroke="#f5b0b0" stroke-width="0.6"/>
<line x1="365" y1="357.3" x2="443.3" y2="357.3" stroke="#aaa" stroke-width="0.4"/>
<g stroke="#333" stroke-width="0.25">
<path d="M369 353.3V360.7M372 353.3V360.7M376 353.3V360.7M380 353.3V360.7M384 353.3V360.7M388 353.3V360.7M390 353.3V360.7M392 353.3V360.7M394 353.3V360.7M395.5 353.3V360.7M397 353.3V360.7M399 353.3V360.7M400.5 353.3V360.7M402 353.3V360.7M404 353.3V360.7M405.5 353.3V360.7M407 353.3V360.7M409 353.3V360.7M410.5 353.3V360.7M412 353.3V360.7M414 353.3V360.7M415.5 353.3V360.7M417 353.3V360.7M419 353.3V360.7M420.5 353.3V360.7M422 353.3V360.7M424 353.3V360.7M425.5 353.3V360.7M427 353.3V360.7M429 353.3V360.7M431 353.3V360.7M433 353.3V360.7M435 353.3V360.7M437 353.3V360.7M439.5 353.3V360.7"/>
</g>
<path d="M368.3 351.7 L370 350.7 L375 354 L385 361.7 L387 362.5 L390 360.7 L400 370 L410 380 L416.7 388.3 L418.3 389.3 L421.7 386.7 L426.7 384 L431.7 382.7 L434 375 L436.7 366.7 L440 356.7 L441.7 356" fill="none" stroke="#8fe27f" stroke-width="0.7"/>
<g font-size="1.8" fill="#666" text-anchor="middle">
<text x="368.3" y="393">0</text><text x="390" y="393">5000</text><text x="410" y="393">10000</text><text x="430" y="393">15000</text>
<text x="404" y="395.8">Rank</text>
<text x="362.3" y="370" transform="rotate(-90 362.3 370)">Running Enrichment Score</text>
</g>

<!-- ================= PANEL I ================= -->
<text x="268.5" y="345.5" font-size="8" font-weight="bold">I</text>
<text x="307" y="339.5" font-size="5.5" font-weight="bold" text-anchor="middle">*</text>
<line x1="295.3" y1="342.7" x2="322" y2="342.7" stroke="#333" stroke-width="0.5"/>
<text x="313.7" y="351" font-size="5.5" font-weight="bold" text-anchor="middle">*</text>
<line x1="307" y1="353.3" x2="320.3" y2="353.3" stroke="#333" stroke-width="0.5"/>
<g stroke="#333" stroke-width="0.4">
<line x1="288.7" y1="349" x2="288.7" y2="390.7"/>
<line x1="288.7" y1="390.7" x2="325.5" y2="390.7"/>
<line x1="287.3" y1="350.7" x2="288.7" y2="350.7"/><line x1="287.3" y1="360.7" x2="288.7" y2="360.7"/><line x1="287.3" y1="370.7" x2="288.7" y2="370.7"/><line x1="287.3" y1="380.7" x2="288.7" y2="380.7"/><line x1="287.3" y1="390.7" x2="288.7" y2="390.7"/>
</g>
<g font-size="2.8" fill="#333" text-anchor="end">
<text x="286.8" y="351.7">800</text><text x="286.8" y="361.7">600</text><text x="286.8" y="371.7">400</text><text x="286.8" y="381.7">200</text><text x="286.8" y="391.7">0</text>
</g>
<text x="279.5" y="370" font-size="2.8" fill="#333" text-anchor="middle" transform="rotate(-90 279.5 370)">IL-1RA (pg/mL)</text>
<g fill="#4d9be6" stroke="#222" stroke-width="0.4">
<rect x="291.3" y="382.3" width="7.4" height="8.4"/>
<rect x="303" y="381.7" width="8" height="9"/>
<rect x="315.3" y="364.3" width="7.7" height="26.4"/>
</g>
<g stroke="#222" stroke-width="0.4">
<path d="M295 382.3V379 M293.8 379H296.2 M307 381.7V378.8 M305.8 378.8H308.2 M319.2 364.3V355.7 M318 355.7H320.4"/>
</g>
<g fill="#111">
<circle cx="295" cy="381" r="0.8"/><circle cx="295" cy="385.5" r="0.8"/><circle cx="295" cy="388" r="0.8"/>
<circle cx="307" cy="380.5" r="0.8"/><circle cx="307" cy="384.5" r="0.8"/><circle cx="307.5" cy="386.5" r="0.8"/>
<circle cx="319.3" cy="359.3" r="0.8"/><circle cx="318.7" cy="365.7" r="0.8"/><circle cx="319.3" cy="370.7" r="0.8"/>
</g>
<g font-size="2.9" fill="#333" text-anchor="middle">
<text x="295" y="396.8">UI</text><text x="307" y="396.8">6h</text><text x="319.3" y="396.8">24h</text>
</g>
</svg>
</body></html>
